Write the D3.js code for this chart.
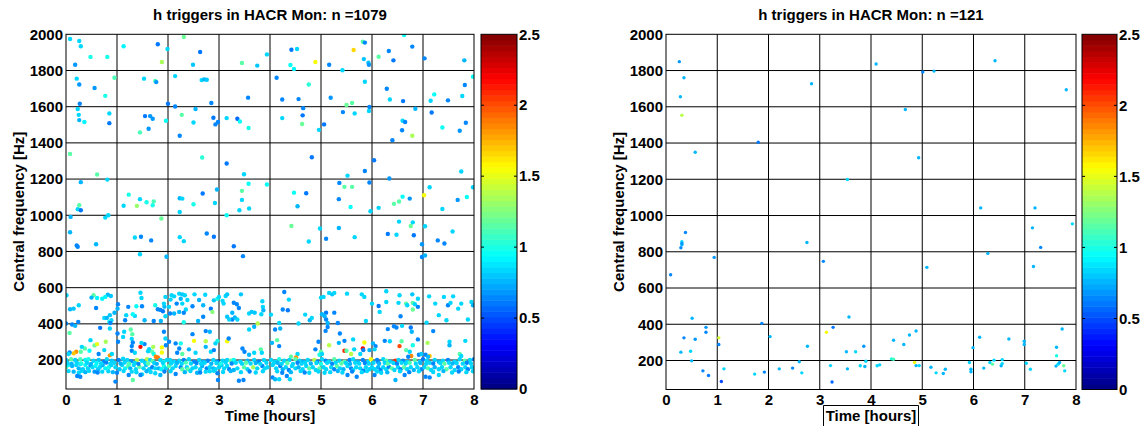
<!DOCTYPE html>
<html><head><meta charset="utf-8">
<script src="https://cdn.jsdelivr.net/npm/d3@7"></script>
<style>
body{margin:0;background:#fff;}
svg{display:block;font-family:"Liberation Sans",Arial,Helvetica,sans-serif;font-weight:bold;}
</style></head><body>
<svg id="chart" width="1145" height="426"></svg>
<script>
// ---------- data ----------
const timeTicks = [0,1,2,3,4,5,6,7,8];
const freqTicks = [200,400,600,800,1000,1200,1400,1600,1800,2000];
const colorTicks = [0,0.5,1,1.5,2,2.5];
const nLeft = 1079, nRight = 121;
const titlePrefix = "h triggers in HACR Mon: n =";

// [time (hours), central frequency (Hz), colour value]
const leftUpper = [[0.08,1974,0.85],[0.26,1963,0.85],[0.29,1934,0.85],[0.18,1832,0.7],[0.48,1875,1.0],[0.81,1875,1.0],[1.13,1934,0.9],[1.80,1945,0.6],[1.99,1919,0.85],[2.31,1985,1.2],[1.88,1847,1.35],[2.49,1832,0.8],[2.63,1902,0.6],[3.45,1841,1.15],[3.75,1827,0.8],[3.94,1889,0.85],[0.21,1755,0.85],[0.26,1723,0.7],[0.56,1703,0.7],[0.77,1660,1.0],[0.95,1760,1.1],[0.27,1616,0.65],[0.23,1587,0.85],[0.25,1555,0.85],[0.26,1526,0.75],[0.36,1515,0.9],[0.85,1563,0.85],[0.85,1509,0.6],[1.53,1755,0.85],[1.75,1742,1.1],[1.77,1736,0.7],[2.14,1769,0.85],[2.66,1747,0.85],[2.71,1751,0.75],[2.76,1749,0.8],[2.0,1616,0.6],[2.14,1601,0.65],[2.54,1587,0.75],[2.85,1620,0.65],[1.55,1548,0.6],[1.65,1548,0.7],[1.70,1533,0.7],[1.62,1478,0.7],[1.45,1458,1.1],[1.96,1522,0.95],[2.27,1555,1.15],[2.50,1513,0.85],[2.23,1439,0.65],[2.89,1539,0.6],[2.93,1502,0.65],[2.98,1515,0.65],[3.15,1537,0.85],[3.36,1533,0.55],[3.41,1518,0.95],[3.58,1482,1.0],[3.57,1650,0.65],[0.08,1339,1.15],[2.67,1319,1.05],[3.15,1286,0.6],[0.61,1225,1.15],[0.81,1197,0.85],[0.29,1183,0.75],[3.49,1227,0.85],[3.58,1174,0.95],[3.94,1170,0.95],[1.23,1114,1.0],[1.13,1053,0.85],[1.39,1052,1.3],[1.45,1089,0.85],[1.58,1072,1.0],[1.72,1077,1.1],[1.70,1055,1.0],[0.23,1033,0.85],[0.26,1055,1.15],[0.29,1028,0.6],[2.23,1094,0.75],[2.28,1092,0.85],[2.68,1120,0.6],[2.96,1142,0.75],[2.50,1061,1.0],[2.92,1068,0.85],[2.23,1018,0.85],[3.45,1135,1.15],[3.45,1085,0.85],[3.40,1028,0.85],[3.59,1037,0.85],[0.09,991,0.75],[0.77,987,0.85],[0.83,1000,0.85],[1.87,982,1.2],[3.15,1000,0.95],
[6.63,1996,0.95],[4.42,1915,0.6],[4.53,1919,0.85],[4.89,1847,1.55],[4.40,1830,0.95],[4.47,1808,0.9],[5.82,1959,1.15],[5.86,1954,0.65],[5.64,1913,1.65],[5.84,1863,0.8],[5.93,1843,0.8],[5.94,1832,0.7],[5.16,1832,0.65],[5.42,1801,0.85],[6.13,1876,1.15],[6.33,1908,0.65],[6.42,1856,0.6],[6.79,1932,0.65],[7.03,1867,0.65],[7.81,1856,0.75],[4.13,1760,0.65],[4.76,1723,1.05],[5.86,1738,0.85],[6.29,1699,0.65],[4.24,1640,0.65],[4.56,1642,0.65],[5.19,1649,0.7],[5.50,1609,1.2],[5.61,1620,1.15],[5.95,1598,0.65],[5.94,1576,0.85],[5.43,1570,0.65],[5.66,1563,0.85],[4.65,1592,0.65],[4.64,1552,0.6],[4.24,1537,0.85],[4.63,1504,1.2],[5.06,1502,0.6],[4.96,1472,0.85],[6.35,1640,0.85],[6.61,1631,0.6],[6.85,1589,0.75],[6.60,1522,0.85],[6.65,1515,0.65],[6.59,1470,0.65],[6.40,1415,0.65],[6.79,1439,1.35],[7.15,1633,0.85],[7.22,1668,0.95],[7.49,1635,0.65],[7.77,1659,0.85],[7.82,1720,0.65],[7.98,1766,0.95],[7.17,1568,0.6],[7.38,1485,0.95],[7.72,1467,0.7],[7.84,1511,0.65],[4.82,1321,0.6],[6.04,1304,0.6],[5.86,1245,0.65],[5.52,1219,0.85],[5.36,1179,0.65],[5.95,1181,0.65],[6.34,1203,0.7],[7.75,1242,0.85],[4.47,1125,0.95],[4.71,1122,0.6],[4.54,1050,0.75],[5.46,1157,1.15],[5.61,1157,1.15],[5.35,1089,0.65],[5.58,1046,0.95],[5.97,1022,0.85],[6.13,1041,0.85],[6.43,1063,1.15],[6.53,1076,1.15],[6.60,1103,0.95],[6.74,1092,0.7],[7.02,1111,1.55],[7.13,1155,0.85],[7.38,1035,0.85],[7.68,1085,0.7],[7.86,1101,0.95],[7.98,1155,0.85],
[0.08,906,0.75],[0.21,833,0.65],[0.23,826,0.65],[0.59,840,0.75],[1.35,877,0.85],[1.47,881,0.65],[1.67,861,0.65],[1.45,785,0.85],[1.97,771,0.75],[2.23,879,0.85],[2.31,857,0.85],[2.76,899,0.65],[2.90,881,0.6],[3.29,829,0.6],[3.47,774,0.65],[4.42,941,1.2],[4.76,855,0.85],[4.98,927,0.85],[5.10,870,0.65],[5.35,930,0.75],[5.66,879,0.85],[6.31,897,0.6],[6.48,892,0.85],[6.53,965,0.85],[6.76,941,1.2],[6.80,961,0.85],[6.82,890,0.6],[7.04,939,0.85],[6.98,840,0.7],[7.29,861,0.65],[7.42,844,0.65],[7.58,910,0.85],[6.98,769,0.65],[7.04,778,0.75]];

const leftBand0to2 = [[0.01,558,0.85],[0.54,558,1.15],[0.61,543,0.9],[0.50,545,0.75],[0.71,539,0.9],[0.82,561,0.75],[0.88,554,0.8],[0.77,549,0.9],[0.25,503,0.85],[0.08,481,0.75],[0.15,484,0.8],[0.59,488,0.65],[1.46,572,0.85],[1.48,543,0.85],[1.02,508,0.65],[1.01,484,0.75],[1.22,494,0.65],[1.38,497,0.95],[1.49,497,0.65],[0.95,461,0.75],[1.18,448,0.85],[1.75,503,1.0],[1.80,481,0.65],[1.85,477,0.65],[1.90,470,0.6],[1.93,495,0.75],[1.92,512,0.85],[1.95,549,0.85],[0.75,433,0.85],[0.80,433,0.75],[0.86,448,0.8],[0.89,420,0.85],[0.85,411,0.9],[1.35,444,0.85],[1.31,453,0.95],[1.54,420,0.75],[1.72,416,0.65],[1.86,416,0.75],[1.95,442,0.85],[1.16,420,0.65],
[0.0,402,0.65],[0.12,396,0.65],[0.18,389,0.75],[0.24,411,0.65],[0.07,350,1.15],[0.67,378,0.6],[0.86,374,0.85],[0.87,405,0.65],[1.01,347,0.65],[1.14,356,0.85],[1.27,369,1.15],[1.30,343,1.15],[1.29,317,0.85],[1.31,297,0.65],[1.29,277,0.65],[1.29,251,0.65],[1.35,240,0.85],[1.12,328,0.85],[1.02,301,0.65],[1.46,273,2.15],[1.54,288,0.65],[1.48,295,0.85],[1.63,260,0.85],[1.69,246,1.15],[1.72,233,1.0],[1.76,218,1.85],[1.88,270,1.55],[1.88,242,1.55],[1.71,273,1.35],[1.61,249,0.85],[1.92,356,0.65],[1.95,319,0.85],[1.96,282,0.65],[0.48,310,0.85],[0.56,281,1.2],[0.61,288,1.5],[0.78,301,1.35],[0.75,255,0.85],[0.46,251,0.95],[0.37,264,1.15],[0.29,246,1.15],[0.20,246,1.8],[0.15,237,1.7],[0.07,242,0.65],[0.05,233,0.85],[0.86,226,1.8],[0.90,233,0.85],[0.64,233,0.65],[0.31,273,0.85],
[0.0,200,0.85],[0.10,205,1.15],[0.18,200,0.85],[0.28,204,1.1],[0.38,200,0.9],[0.44,204,1.0],[0.54,196,0.85],[0.64,200,0.8],[0.74,191,0.65],[0.80,204,0.85],[0.90,196,0.8],[1.03,200,0.65],[1.12,207,0.85],[1.20,200,0.85],[1.28,194,0.7],[1.39,200,1.4],[1.49,196,0.85],[1.59,204,1.4],[1.65,200,0.85],[1.70,194,1.15],[1.80,215,1.9],[1.85,200,0.85],[1.92,191,1.0],[1.98,200,0.85],
[0.0,160,1.15],[0.04,172,0.9],[0.12,167,0.75],[0.20,172,0.85],[0.25,154,0.75],[0.28,178,0.85],[0.33,149,0.8],[0.38,172,0.9],[0.43,154,0.85],[0.48,172,0.65],[0.52,160,0.85],[0.58,167,0.9],[0.63,149,0.8],[0.67,163,0.85],[0.72,172,0.75],[0.77,154,0.9],[0.84,160,1.0],[0.89,172,0.85],[0.97,160,0.85],[1.05,149,0.8],[1.10,172,0.85],[1.16,154,0.9],[1.22,167,1.15],[1.26,154,0.75],[1.33,172,0.85],[1.37,149,0.85],[1.44,163,1.15],[1.52,154,0.85],[1.57,172,0.8],[1.63,149,0.85],[1.69,160,0.65],[1.75,154,0.85],[1.82,154,0.75],[1.87,149,0.9],[1.92,167,1.0],[1.96,154,0.85],[0.15,136,0.75],[0.25,130,0.85],[0.31,141,0.85],[0.22,112,0.65],[0.28,108,0.65],[1.0,130,0.65],[1.29,136,0.85],[1.49,121,0.85],[1.23,117,0.65],[0.97,81,0.65],[1.46,117,0.65],[1.31,90,1.15],[1.85,117,0.75],[1.75,127,0.85],[0.71,136,0.85],[0.56,136,0.7]];

const leftBand2to4 = [[2.07,558,0.85],[2.12,552,0.85],[2.22,567,0.85],[2.28,563,0.8],[2.33,558,0.85],[2.25,539,0.75],[2.05,534,0.85],[2.17,512,0.65],[2.28,512,0.85],[2.38,532,0.85],[2.52,563,0.85],[2.61,532,0.75],[2.73,561,0.85],[2.48,497,0.65],[2.69,503,0.75],[2.84,484,0.6],[2.87,466,1.25],[2.90,530,0.8],[2.97,539,1.0],[3.0,549,0.85],[3.09,512,0.85],[3.13,554,0.85],[3.07,527,0.85],[3.16,563,0.8],[3.29,517,0.65],[3.35,508,0.65],[3.43,563,0.8],[3.39,488,0.65],[3.26,461,0.75],[3.26,424,0.65],[3.31,435,0.75],[3.20,424,0.85],[3.16,439,0.8],[3.36,424,0.85],[3.59,457,0.85],[3.64,466,0.8],[3.70,462,0.8],[3.85,525,0.85],[3.86,494,0.85],[3.87,475,0.75],[3.83,453,0.85],[2.35,479,0.85],[2.31,461,0.65],[2.22,466,0.75],[2.12,457,0.75],[2.02,494,0.85],[2.04,457,0.65],[2.59,416,0.75],[2.69,439,0.65],[2.31,409,1.0],
[3.76,402,1.4],[3.59,369,0.85],[3.69,384,0.75],[2.48,343,0.65],[2.74,360,0.65],[2.82,356,0.75],[2.51,306,1.55],[2.74,304,1.4],[2.97,306,1.0],[2.93,292,0.85],[3.16,304,1.55],[3.19,319,0.65],[2.02,301,0.65],[2.15,292,0.65],[2.25,292,1.0],[2.22,264,0.65],[2.28,233,1.15],[2.18,240,0.65],[2.54,240,0.85],[2.41,259,0.75],[2.74,273,0.75],[2.84,246,0.85],[2.90,255,0.65],[3.46,264,0.65],[3.50,246,0.65],[3.59,229,0.75],[3.69,240,0.85],[3.82,259,1.15],[3.84,240,0.85],
[2.04,200,0.85],[2.12,191,0.85],[2.22,196,0.85],[2.31,200,0.65],[2.41,204,0.85],[2.51,191,0.65],[2.61,200,0.85],[2.69,191,0.75],[2.78,196,0.65],[2.89,200,0.85],[2.97,191,0.65],[3.07,196,0.85],[3.16,200,0.85],[3.23,196,1.15],[3.29,200,0.95],[3.42,191,0.85],[3.56,196,0.75],[3.69,200,0.85],[3.78,191,0.65],[3.88,200,0.85],
[2.02,167,1.15],[2.09,154,0.85],[2.15,167,0.85],[2.25,160,0.65],[2.28,149,1.15],[2.37,160,0.85],[2.39,149,1.15],[2.48,154,0.85],[2.54,160,0.85],[2.63,149,0.85],[2.67,167,0.75],[2.76,154,0.65],[2.82,160,0.85],[2.89,154,0.75],[2.93,149,0.85],[3.0,160,0.85],[3.05,172,0.8],[3.10,154,0.85],[3.16,167,0.85],[3.20,149,0.65],[3.29,145,0.75],[3.36,154,0.85],[3.49,160,1.15],[3.56,149,0.85],[3.67,160,1.35],[3.75,154,0.85],[3.85,167,0.65],[3.90,154,0.85],[3.95,160,0.85],[2.15,123,0.65],[2.90,141,0.85],[2.97,127,0.65],[2.98,90,0.65],[3.39,86,0.65],[3.48,90,0.65],[2.74,136,0.85],[2.57,130,0.75]];

const leftBand4to6 = [[4.28,576,0.65],[4.37,534,0.85],[4.25,479,0.65],[4.35,475,0.6],[4.02,451,0.85],[4.69,451,0.85],[4.78,420,0.75],[4.82,433,0.85],[4.18,405,0.85],[4.56,402,0.85],[5.0,545,0.85],[5.05,549,0.85],[5.16,571,0.85],[5.22,563,0.8],[5.26,571,0.85],[5.51,567,0.85],[5.80,563,0.85],[5.85,549,0.85],[5.02,453,0.75],[5.10,462,0.6],[5.07,442,0.75],[5.10,424,0.65],[5.13,405,0.75],[5.26,462,0.65],[5.33,405,0.65],[5.88,416,0.85],[6.0,512,0.85],
[4.10,369,0.65],[4.20,374,0.75],[5.09,361,0.65],[5.13,383,0.65],[5.37,347,0.65],[5.46,306,0.65],[5.63,314,0.85],[4.04,295,0.75],[4.14,310,1.15],[4.18,277,0.65],[4.95,301,0.65],[5.16,282,1.4],[5.35,295,0.75],[4.89,259,0.65],[5.0,246,1.15],[4.97,229,1.0],[5.02,233,0.85],[5.46,251,2.1],[5.50,251,1.15],[5.59,233,1.4],[5.65,259,0.85],[5.82,264,2.2],[5.83,255,0.65],[5.85,297,1.55],[5.95,255,0.75],[5.77,233,0.85],[4.54,233,0.85],[4.51,215,1.8],[4.41,218,1.15],
[4.02,200,0.85],[4.10,191,0.85],[4.18,204,1.0],[4.28,196,0.85],[4.38,200,0.85],[4.50,204,1.15],[4.58,196,0.85],[4.65,191,0.75],[4.74,200,0.85],[4.87,200,1.4],[4.93,191,0.65],[5.02,204,0.85],[5.09,196,0.65],[5.16,191,0.85],[5.26,204,1.15],[5.36,196,0.85],[5.46,191,1.15],[5.56,200,0.65],[5.63,204,0.85],[5.72,191,0.75],[5.82,200,0.65],[5.92,191,0.85],[5.98,204,1.55],
[4.05,172,0.85],[4.12,154,0.85],[4.20,167,0.65],[4.25,149,0.75],[4.31,160,0.85],[4.37,145,0.65],[4.43,167,0.85],[4.50,154,0.85],[4.56,160,0.75],[4.64,149,0.85],[4.71,167,0.85],[4.77,154,1.15],[4.84,160,0.85],[4.90,145,0.85],[4.97,154,1.15],[5.05,160,0.85],[5.10,149,0.85],[5.20,160,0.85],[5.26,149,0.65],[5.31,167,1.15],[5.37,154,0.85],[5.44,149,0.75],[5.52,167,0.85],[5.59,154,0.65],[5.63,145,0.85],[5.69,160,0.85],[5.77,154,0.85],[5.83,141,0.65],[5.88,160,0.85],[5.95,149,0.85],[4.05,104,0.65],[4.10,94,0.75],[4.18,94,0.85],[4.33,112,0.65],[4.39,94,0.85],[4.24,130,0.65],[5.70,108,0.65],[5.52,117,0.65],[5.07,130,0.85],[4.77,130,0.85]];

const leftBand6to8 = [[6.28,580,0.85],[6.54,558,0.85],[6.79,563,0.8],[6.90,539,0.85],[7.12,552,0.85],[7.41,549,0.85],[7.59,552,0.85],[6.13,499,0.6],[6.15,466,0.85],[6.28,521,0.85],[6.52,516,0.85],[6.67,512,1.15],[6.69,503,0.85],[6.80,516,1.15],[6.84,508,0.85],[6.90,494,0.65],[6.80,479,1.2],[7.24,512,0.85],[7.49,503,0.65],[7.54,516,0.85],[7.69,484,0.85],[7.75,512,0.85],[7.95,521,0.85],[7.98,503,0.75],[6.56,442,0.65],[7.31,448,0.85],[7.46,420,0.85],[7.88,424,0.85],[7.07,407,0.85],
[6.31,371,0.65],[6.43,387,0.65],[6.48,380,0.65],[6.59,389,0.85],[6.76,380,0.6],[6.78,356,0.75],[7.20,360,0.65],[6.25,306,0.65],[6.35,304,0.85],[6.58,304,1.15],[6.90,314,0.65],[7.09,295,1.35],[6.80,282,1.0],[6.54,277,2.0],[7.52,301,0.85],[7.52,282,0.75],[7.83,306,0.85],[6.02,292,0.75],[6.07,277,0.65],[6.05,259,0.85],[6.67,255,1.15],[6.74,246,0.85],[6.77,222,1.85],[6.71,218,0.65],[6.92,229,0.65],[6.97,233,0.8],[7.05,229,0.65],[7.13,222,1.7],[7.10,218,0.75],[7.72,233,1.15],[7.75,222,0.85],[6.46,196,2.1],[6.10,200,0.65],[6.22,204,0.85],
[6.12,189,0.65],[6.28,196,1.15],[6.35,191,0.85],[6.52,200,0.85],[6.61,196,0.65],[6.69,189,0.85],[6.84,200,1.15],[6.94,191,0.85],[7.0,204,0.6],[7.07,196,0.85],[7.23,200,0.85],[7.31,191,0.75],[7.39,196,0.85],[7.49,200,0.65],[7.62,191,0.85],[7.72,204,0.85],[7.82,196,1.15],[7.92,200,0.85],[8.0,204,0.65],
[6.0,160,0.85],[6.05,149,0.85],[6.12,160,0.75],[6.17,145,0.65],[6.22,160,0.85],[6.28,149,0.85],[6.33,163,0.65],[6.39,154,1.15],[6.44,145,0.85],[6.51,160,0.85],[6.56,149,0.65],[6.63,160,1.15],[6.69,149,0.85],[6.76,160,0.85],[6.82,145,0.75],[6.89,160,0.85],[6.97,149,0.65],[7.03,160,0.85],[7.10,154,1.15],[7.16,145,0.85],[7.23,160,0.75],[7.31,149,0.85],[7.37,160,0.85],[7.46,149,1.15],[7.54,160,0.85],[7.62,145,0.85],[7.69,160,0.65],[7.75,149,0.85],[7.83,160,0.85],[7.88,149,0.65],[7.96,160,0.85],[6.05,117,0.65],[6.18,130,0.85],[6.46,90,0.75],[6.64,117,0.65],[7.05,108,0.65],[7.13,104,0.65],[7.31,117,0.85]];

// further triggers inside the dense 120-190 Hz band
const leftBandDense = [[0.03,184,0.85],[0.11,180,0.75],[0.21,186,0.85],[0.30,181,1.0],[0.41,185,0.85],[0.49,179,0.75],[0.60,184,0.9],[0.69,181,0.85],[0.79,186,0.65],[0.87,180,0.85],[0.95,185,0.85],[1.07,181,0.75],[1.15,186,0.85],[1.24,180,1.1],[1.35,184,0.85],[1.42,179,0.65],[1.55,185,0.85],[1.61,181,1.15],[1.73,184,0.85],[1.78,179,0.75],[1.90,185,0.85],
[2.06,181,0.85],[2.18,185,0.75],[2.27,180,0.85],[2.35,186,1.1],[2.45,181,0.85],[2.56,184,0.65],[2.65,179,0.85],[2.72,185,0.85],[2.85,180,0.75],[2.95,184,0.85],[3.03,180,1.0],[3.13,186,0.85],[3.25,181,0.65],[3.33,185,0.85],[3.45,180,0.85],[3.53,185,1.15],[3.62,181,0.85],[3.72,184,0.75],[3.81,179,0.85],[3.93,185,0.85],
[4.07,181,0.85],[4.15,185,0.75],[4.23,180,0.85],[4.34,184,1.15],[4.45,179,0.85],[4.54,185,0.65],[4.62,180,0.85],[4.69,185,0.85],[4.80,181,0.75],[4.91,184,0.85],[5.00,179,1.0],[5.12,185,0.85],[5.22,180,0.65],[5.29,186,0.85],[5.40,181,1.15],[5.49,184,0.85],[5.57,179,0.75],[5.67,185,0.85],[5.75,180,0.85],[5.86,184,0.65],[5.94,180,0.85],
[6.03,185,0.85],[6.14,180,0.75],[6.25,185,0.85],[6.31,179,1.15],[6.42,184,0.85],[6.49,180,0.65],[6.58,185,0.85],[6.66,181,0.85],[6.74,185,1.1],[6.86,180,0.85],[6.95,184,0.75],[7.06,179,0.85],[7.13,185,0.85],[7.20,181,0.65],[7.34,184,0.85],[7.42,180,1.15],[7.51,185,0.85],[7.58,181,0.75],[7.66,184,0.85],[7.78,180,0.85],[7.86,185,0.65],[7.94,181,0.85],
[0.05,139,0.85],[0.38,133,0.75],[0.45,140,0.85],[0.62,131,0.65],[0.83,138,0.85],[0.92,133,0.75],[1.13,139,0.85],[1.38,132,0.85],[1.58,138,0.75],[1.66,134,0.85],[1.93,137,0.65],
[2.05,138,0.85],[2.33,133,0.75],[2.44,139,0.85],[2.63,131,0.65],[2.82,138,0.85],[3.08,134,0.85],[3.23,139,0.75],[3.43,133,0.85],[3.60,137,0.65],[3.72,131,0.85],[3.86,138,0.85],
[4.14,138,0.85],[4.41,133,0.75],[4.60,139,0.85],[4.68,131,0.65],[4.95,137,0.85],[5.18,133,0.85],[5.33,139,0.75],[5.42,131,0.85],[5.61,137,0.65],[5.80,133,0.85],[5.90,139,0.85],
[6.10,137,0.85],[6.30,132,0.75],[6.55,138,0.85],[6.73,133,0.65],[6.92,138,0.85],[7.20,134,0.85],[7.40,139,0.75],[7.57,131,0.85],[7.70,137,0.65],[7.85,133,0.85],[7.98,138,0.85]];

const rightTriggers = [[0.26,1849,0.7],[0.35,1760,0.75],[0.28,1655,0.75],[0.31,1553,1.4],[0.57,1349,0.75],[1.80,1404,0.6],[2.84,1727,0.75],[3.54,1199,0.85],[4.10,1836,0.75],[5.01,1792,0.65],[5.23,1797,0.75],[6.42,1854,0.75],[7.81,1694,0.75],[4.67,1585,0.75],[4.93,1319,0.75],[6.14,1042,0.75],[7.20,1042,0.75],
[0.09,673,0.65],[0.29,822,0.65],[0.31,839,0.75],[0.31,855,0.85],[0.31,846,0.7],[0.38,906,0.65],[0.94,769,0.7],[2.75,851,0.75],[3.07,747,0.65],[0.51,433,0.75],[0.35,325,0.65],[0.57,317,0.7],[0.29,246,0.75],[0.48,251,0.85],[0.50,198,0.75],[0.78,383,0.7],[0.78,356,0.65],[0.72,143,0.65],[0.83,117,0.6],[1.03,325,1.45],[1.03,288,0.65],[1.08,84,0.5],[1.13,154,0.85],[1.73,125,0.85],[1.87,405,0.65],[1.92,136,0.65],[2.03,332,0.75],[2.21,154,0.75],[2.47,158,0.65],[2.60,193,0.75],[2.65,132,0.85],[2.76,279,0.75],[3.13,356,1.55],[3.21,172,0.85],[3.26,383,0.6],[3.24,81,0.55],[3.52,248,0.75],[3.57,440,0.75],[3.54,154,0.75],[3.70,248,0.85],[3.79,171,0.85],[3.86,279,0.7],[3.90,196,0.85],[3.88,167,0.75],[4.12,171,0.85],[4.17,176,0.85],
[4.44,312,0.75],[4.40,209,1.0],[4.44,207,1.1],[4.64,288,0.75],[4.75,341,0.75],[4.88,363,0.75],[4.85,189,1.55],[4.88,172,0.75],[4.94,172,0.85],[5.09,714,0.75],[5.17,163,0.75],[5.27,132,0.85],[5.41,128,0.75],[5.45,152,0.75],[5.92,189,0.85],[5.95,152,0.75],[5.95,138,0.75],[5.99,271,0.75],[6.12,328,0.75],[6.20,158,0.75],[6.28,791,0.75],[6.32,189,0.85],[6.37,180,1.15],[6.40,202,0.85],[6.54,171,0.75],[6.56,205,0.85],[6.56,183,0.85],[6.69,319,0.75],[6.99,306,0.75],[6.99,288,0.75],[7.03,185,0.85],[7.11,152,0.85],[7.15,932,0.75],[7.17,719,0.75],[7.31,824,0.65],[7.62,273,0.75],[7.62,226,1.0],[7.61,169,0.75],[7.65,180,0.85],[7.68,189,0.75],[7.73,374,0.75],[7.76,171,1.2],[7.78,143,0.85],[7.93,954,0.85]];

// ---------- helpers ----------
const cmin = 0, cmax = 2.5, nLevels = 64;
function jet(f){
  const c = v => Math.max(0, Math.min(1, v));
  const r = c(1.5 - Math.abs(4*f - 3)), g = c(1.5 - Math.abs(4*f - 2)), b = c(1.5 - Math.abs(4*f - 1));
  return d3.rgb(r*255, g*255, b*255).formatHex();
}
function colorOf(v){
  let i = Math.floor((v - cmin)/(cmax - cmin)*nLevels);
  i = Math.max(0, Math.min(nLevels-1, i));
  return jet((i + 0.5)/nLevels);
}

const svg = d3.select("#chart");
const FS = 15;

function panel(opts){
  const {x0, x1, y0, y1, cb0, cb1, data, n, r} = opts;
  const g = svg.append("g");
  const x = d3.scaleLinear().domain([0, 8]).range([x0, x1]);
  const y = d3.scaleLinear().domain([40, 2000]).range([y1, y0]);

  // grid
  g.append("g").selectAll("line").data(timeTicks.slice(1, -1)).join("line")
    .attr("x1", d => x(d)).attr("x2", d => x(d)).attr("y1", y0).attr("y2", y1)
    .attr("stroke", "#000").attr("stroke-width", 1);
  g.append("g").selectAll("line").data(freqTicks.slice(0, -1)).join("line")
    .attr("y1", d => y(d)).attr("y2", d => y(d)).attr("x1", x0).attr("x2", x1)
    .attr("stroke", "#000").attr("stroke-width", 1);

  // points
  const clipId = "clip" + x0;
  svg.append("clipPath").attr("id", clipId).append("rect")
    .attr("x", x0).attr("y", y0).attr("width", x1 - x0).attr("height", y1 - y0);
  g.append("g").attr("clip-path", `url(#${clipId})`)
    .selectAll("circle").data(data).join("circle")
    .attr("cx", d => x(d[0])).attr("cy", d => y(d[1])).attr("r", r)
    .attr("fill", d => colorOf(d[2]));

  // frame
  g.append("rect").attr("x", x0).attr("y", y0).attr("width", x1 - x0).attr("height", y1 - y0)
    .attr("fill", "none").attr("stroke", "#000").attr("stroke-width", 1);

  // axes
  const xa = g.append("g").attr("transform", `translate(0,${y1})`)
    .call(d3.axisBottom(x).tickValues(timeTicks).tickFormat(d3.format("d")).tickSize(0).tickPadding(5));
  xa.select(".domain").remove();
  xa.selectAll("text").attr("font-size", FS).attr("font-weight", "bold").attr("fill", "#000")
    .attr("font-family", "Liberation Sans, Arial, sans-serif");
  const ya = g.append("g").attr("transform", `translate(${x0},0)`)
    .call(d3.axisLeft(y).tickValues(freqTicks).tickFormat(d3.format("d")).tickSize(0).tickPadding(3));
  ya.select(".domain").remove();
  ya.selectAll("text").attr("font-size", FS).attr("font-weight", "bold").attr("fill", "#000")
    .attr("font-family", "Liberation Sans, Arial, sans-serif");

  // title and labels
  g.append("text").attr("x", (x0 + x1)/2).attr("y", 20).attr("text-anchor", "middle")
    .attr("font-size", FS).text(titlePrefix + n);
  g.append("text").attr("transform", `translate(${x0 - 42},${(y0 + y1)/2}) rotate(-90)`)
    .attr("text-anchor", "middle").attr("font-size", FS).text("Central frequency [Hz]");
  g.append("text").attr("x", (x0 + x1)/2).attr("y", 420.5).attr("text-anchor", "middle")
    .attr("font-size", FS).text("Time [hours]");

  // colorbar
  const cy = d3.scaleLinear().domain([cmin, cmax]).range([y1, y0]);
  const levels = d3.range(nLevels);
  const step = (cmax - cmin)/nLevels;
  g.append("g").selectAll("rect").data(levels).join("rect")
    .attr("x", cb0).attr("width", cb1 - cb0)
    .attr("y", i => cy(cmin + (i+1)*step)).attr("height", i => cy(cmin + i*step) - cy(cmin + (i+1)*step) + 0.5)
    .attr("fill", i => jet((i + 0.5)/nLevels));
  g.append("rect").attr("x", cb0).attr("y", y0).attr("width", cb1 - cb0).attr("height", y1 - y0)
    .attr("fill", "none").attr("stroke", "#000").attr("stroke-width", 1);
  const inner = colorTicks.slice(1, -1);
  g.append("g").selectAll("line").data(inner).join("line")
    .attr("x1", cb1 - 3).attr("x2", cb1).attr("y1", d => cy(d)).attr("y2", d => cy(d))
    .attr("stroke", "#000");
  g.append("g").selectAll("line").data(inner).join("line")
    .attr("x1", cb0).attr("x2", cb0 + 3).attr("y1", d => cy(d)).attr("y2", d => cy(d))
    .attr("stroke", "#000");
  g.append("g").selectAll("text").data(colorTicks).join("text")
    .attr("x", cb1 + 2).attr("y", d => cy(d)).attr("dy", "0.35em")
    .attr("font-size", FS).text(d => d3.format("")(d));
  return {x, y};
}

panel({x0: 66, x1: 474, y0: 34.3, y1: 389, cb0: 481, cb1: 517,
  data: [...leftUpper, ...leftBand0to2, ...leftBand2to4, ...leftBand4to6, ...leftBand6to8, ...leftBandDense], n: nLeft, r: 2.2});
panel({x0: 666, x1: 1076, y0: 34.3, y1: 389.5, cb0: 1082, cb1: 1117,
  data: rightTriggers, n: nRight, r: 1.7});

// box around the right x-axis label
svg.append("path")
  .attr("d", d3.line()([[823.5, 426], [823.5, 405.5], [918.5, 405.5], [918.5, 426]]))
  .attr("fill", "none").attr("stroke", "#000").attr("stroke-width", 1);
</script>
</body></html>
